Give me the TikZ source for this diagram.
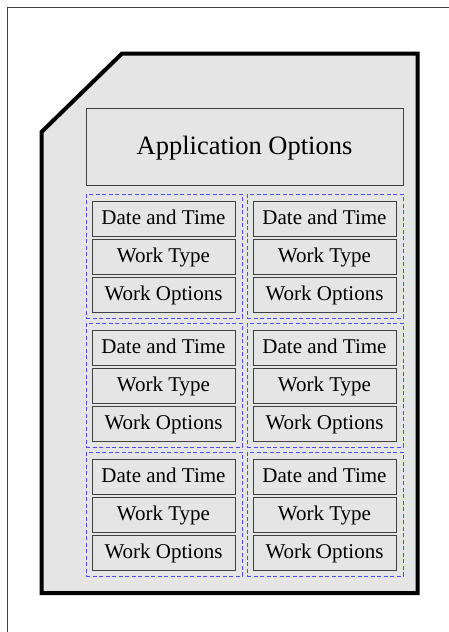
\documentclass[tikz,border=0pt]{standalone}
\usepackage{fontspec}
\setmainfont{Liberation Serif}
\tikzset{
  itembox/.style={draw=black!75, fill=black!10, line width=0.9pt, minimum width=143pt,
    minimum height=35pt, inner sep=0pt, outer sep=0pt, anchor=north west,
    text height=14pt, text depth=1.6pt,
    font=\fontsize{21}{21}\selectfont},
  groupbox/.style={draw=blue!70, dash pattern=on 4pt off 2.5pt, line width=1pt,
    minimum width=156pt, minimum height=124pt, inner sep=0pt, outer sep=0pt, anchor=north west},
  titlebox/.style={draw=black!75, fill=black!10, line width=0.9pt, minimum width=317pt,
    minimum height=77pt, inner sep=0pt, outer sep=0pt, anchor=north west,
    text height=18pt, text depth=2.4pt,
    font=\fontsize{26.5}{26.5}\selectfont},
  panel/.style={draw=black, fill=black!10, line width=4pt, line join=miter}
}
\begin{document}
\begin{tikzpicture}[x=1pt,y=-1pt]
  \useasboundingbox (0,0) rectangle (449,632);
  % page frame (top and left edges)
  \draw[black!75, line width=1pt] (7.5,632) -- (7.5,7.5) -- (449,7.5);
  % outer panel with cut corner
  \draw[panel] (41.5,132) -- (122,53.5) -- (417.5,53.5) -- (417.5,593) -- (41.5,593) -- cycle;
  % heading
  \node[titlebox] (title) at (86,108) {Application Options};
  % three rows of two groups
  \foreach \r/\T in {1/194, 2/323, 3/452} {
    \foreach \c/\X in {1/86, 2/247} {
      \node[groupbox] (g\r\c) at (\X,\T) {};
      \node[itembox] (d\r\c) at (\X+6,\T+7) {Date and Time};
      \node[itembox] (t\r\c) at (\X+6,\T+45) {Work Type};
      \node[itembox] (o\r\c) at (\X+6,\T+83) {Work Options};
    }
  }
\end{tikzpicture}
\end{document}
